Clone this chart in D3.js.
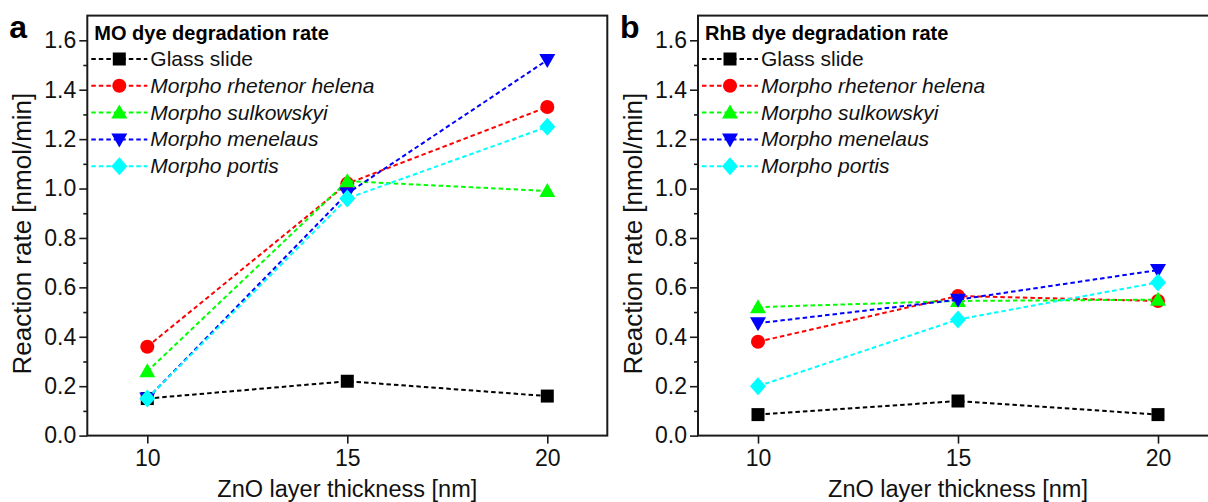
<!DOCTYPE html>
<html>
<head>
<meta charset="utf-8">
<script src="https://cdn.jsdelivr.net/npm/d3@7"></script>
<style>
  body { margin: 0; background: #fff; }
  svg { display: block; font-family: "Liberation Sans", Arial, sans-serif; }
</style>
</head>
<body>
<svg id="chart" width="1208" height="502"></svg>
<script>
// x categories (ZnO thickness, nm)
const thickness = [10, 15, 20];
const seriesNames = ["Glass slide", "Morpho rhetenor helena", "Morpho sulkowskyi", "Morpho menelaus", "Morpho portis"];
const seriesColors = ["#000000", "#ff0000", "#00ff00", "#0000ff", "#00ffff"];
const seriesSymbols = ["square", "circle", "triangle", "triangleDown", "diamond"];

// MO dye degradation rate [nmol/min]
const moGlass = [0.15, 0.22, 0.16];
const moRhetenor = [0.36, 1.02, 1.33];
const moSulkowskyi = [0.26, 1.03, 0.99];
const moMenelaus = [0.15, 0.98, 1.52];
const moPortis = [0.15, 0.96, 1.25];

// RhB dye degradation rate [nmol/min]
const rhbGlass = [0.085, 0.14, 0.085];
const rhbRhetenor = [0.38, 0.565, 0.545];
const rhbSulkowskyi = [0.52, 0.545, 0.55];
const rhbMenelaus = [0.455, 0.55, 0.67];
const rhbPortis = [0.20, 0.47, 0.62];

const yTicks = [0, 0.2, 0.4, 0.6, 0.8, 1.0, 1.2, 1.4, 1.6];
const yMinor = [0.1, 0.3, 0.5, 0.7, 0.9, 1.1, 1.3, 1.5];

const svg = d3.select("#chart");

function symbolPath(kind) {
    if (kind == "square") return "M-6.5,-6.5H6.5V6.5H-6.5Z";
    if (kind == "circle") return d3.symbol(d3.symbolCircle, 155)();
    if (kind == "triangle") return "M0,-8L8,6H-8Z";
    if (kind == "triangleDown") return "M0,8L8,-6H-8Z";
    return "M0,-9L8,0L0,9L-8,0Z"; // diamond
}

function drawPanel(opts) {
    let left = opts.left, top = 15.6, width = 520, height = 420;
    let g = svg.append("g");

    let x = d3.scaleLinear().domain([8.5, 21.5]).range([left, left + width]);
    let y = d3.scaleLinear().domain([0, 1.7]).range([top + height, top]);

    // frame
    g.append("rect")
        .attr("x", left).attr("y", top)
        .attr("width", width).attr("height", height)
        .attr("fill", "none").attr("stroke", "#1a1a1a").attr("stroke-width", 2);

    // x axis
    let xAxis = g.append("g")
        .attr("transform", `translate(0,${top + height})`)
        .call(d3.axisBottom(x).tickValues(thickness).tickSize(8).tickPadding(6).tickFormat(d3.format("d")));
    xAxis.select(".domain").remove();

    // y axis
    let yAxis = g.append("g")
        .attr("transform", `translate(${left},0)`)
        .call(d3.axisLeft(y).tickValues(yTicks).tickSize(8).tickPadding(3).tickFormat(d3.format(".1f")));
    yAxis.select(".domain").remove();
    g.append("g")
        .attr("transform", `translate(${left},0)`)
        .call(d3.axisLeft(y).tickValues(yMinor).tickSize(4).tickFormat(""))
        .select(".domain").remove();

    g.selectAll(".tick line").attr("stroke", "#1a1a1a").attr("stroke-width", 1.6);
    g.selectAll(".tick text").attr("font-size", 23).attr("fill", "#111")
        .attr("font-family", "'Liberation Sans', Arial, sans-serif");

    // axis titles
    g.append("text")
        .attr("x", left + width / 2).attr("y", 497)
        .attr("text-anchor", "middle").attr("font-size", 23.5).attr("fill", "#111")
        .text("ZnO layer thickness [nm]");
    g.append("text")
        .attr("transform", `translate(${left - 56},${top + height / 2 + 8}) rotate(-90)`)
        .attr("text-anchor", "middle").attr("font-size", 26).attr("fill", "#111")
        .text("Reaction rate [nmol/min]");

    // panel letter
    g.append("text")
        .attr("x", left - 78).attr("y", 38)
        .attr("font-size", 32).attr("font-weight", "bold")
        .text(opts.letter);

    // series
    let line = d3.line().x((d, i) => x(thickness[i])).y(d => y(d));
    opts.series.forEach((vals, k) => {
        g.append("path")
            .attr("d", line(vals))
            .attr("fill", "none")
            .attr("stroke", seriesColors[k])
            .attr("stroke-width", 2)
            .attr("stroke-dasharray", "4.5,3");
        g.selectAll(null)
            .data(vals)
            .enter()
            .append("path")
            .attr("d", symbolPath(seriesSymbols[k]))
            .attr("transform", (d, i) => `translate(${x(thickness[i])},${y(d)})`)
            .attr("fill", seriesColors[k]);
    });

    // legend
    let lg = g.append("g").attr("transform", `translate(${left + 7},0)`);
    lg.append("text")
        .attr("x", 0).attr("y", 40)
        .attr("font-size", 20).attr("font-weight", "bold")
        .text(opts.title);
    seriesNames.forEach((name, k) => {
        let yy = 59 + k * 26.8;
        lg.append("line")
            .attr("x1", -3).attr("x2", 53)
            .attr("y1", yy).attr("y2", yy)
            .attr("stroke", seriesColors[k])
            .attr("stroke-width", 2)
            .attr("stroke-dasharray", "4.5,3");
        lg.append("path")
            .attr("d", symbolPath(seriesSymbols[k]))
            .attr("transform", `translate(25,${yy})`)
            .attr("fill", seriesColors[k]);
        lg.append("text")
            .attr("x", 56).attr("y", yy + 7)
            .attr("font-size", 21)
            .attr("font-style", k == 0 ? "normal" : "italic")
            .attr("fill", "#111")
            .text(name);
    });
}

drawPanel({
    left: 87.3, letter: "a", title: "MO dye degradation rate",
    series: [moGlass, moRhetenor, moSulkowskyi, moMenelaus, moPortis]
});
drawPanel({
    left: 698, letter: "b", title: "RhB dye degradation rate",
    series: [rhbGlass, rhbRhetenor, rhbSulkowskyi, rhbMenelaus, rhbPortis]
});
</script>
</body>
</html>
